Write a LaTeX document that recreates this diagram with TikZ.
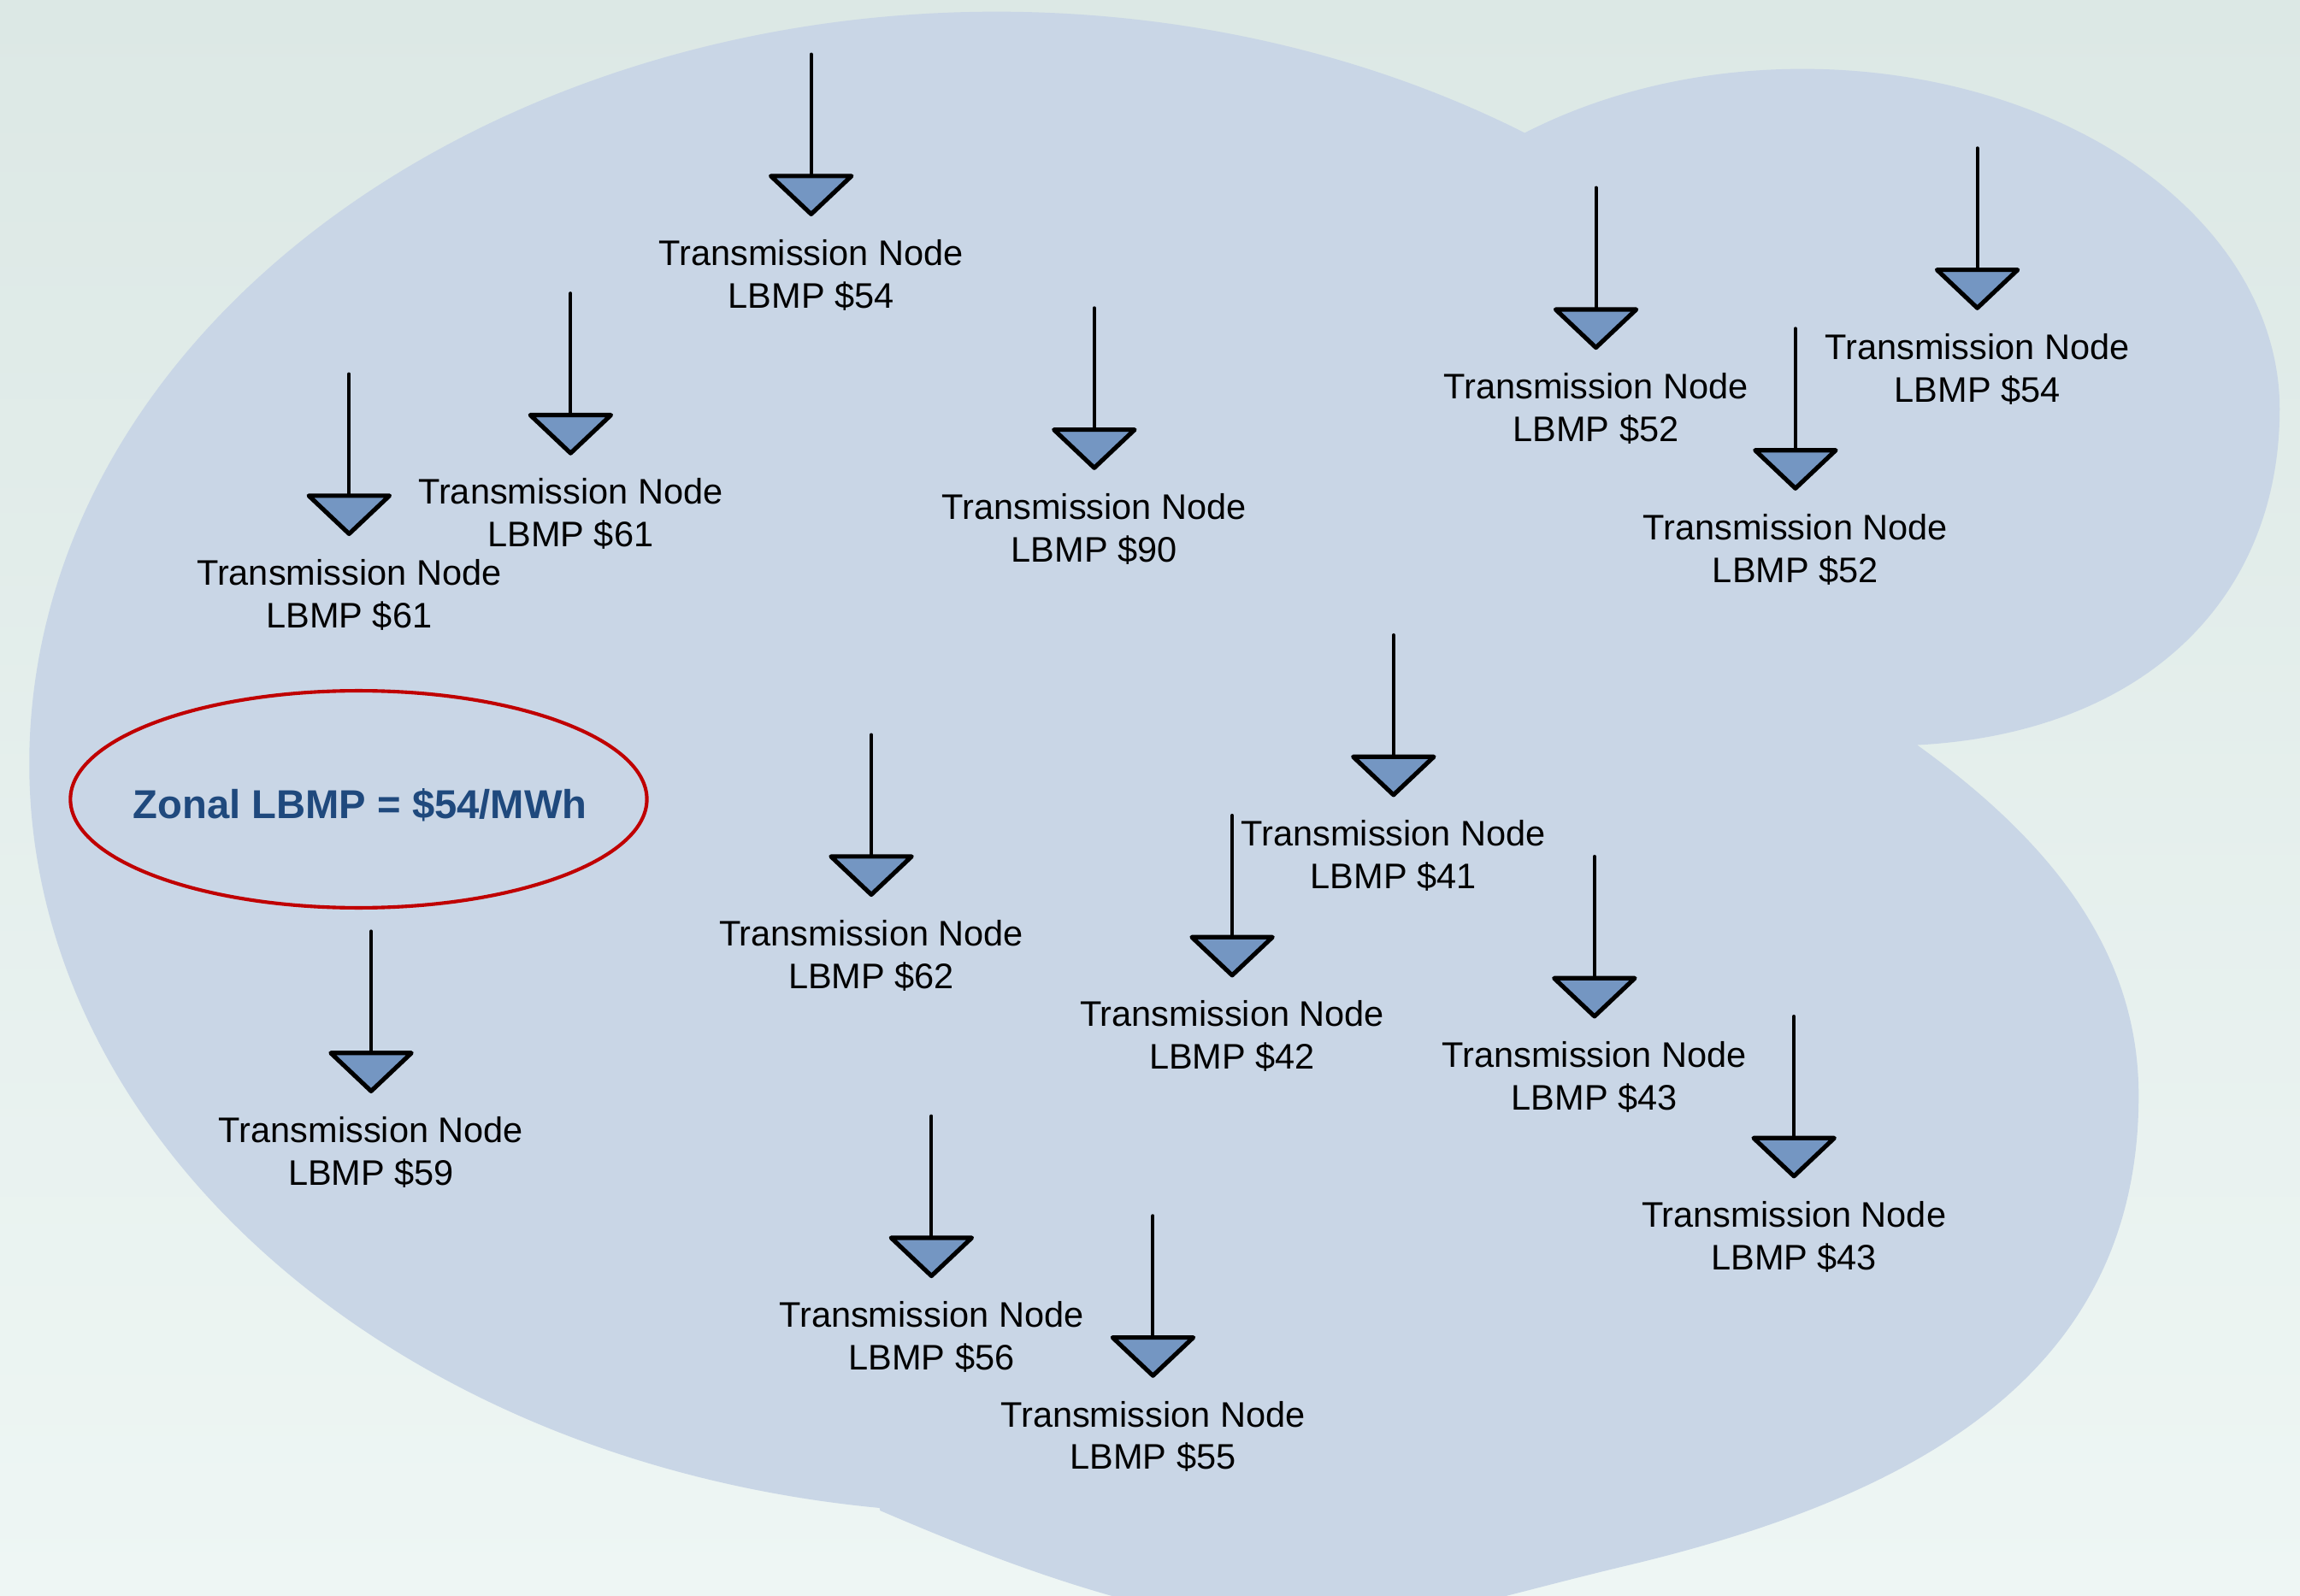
\documentclass[tikz,border=0pt]{standalone}
\usepackage{fontspec}
\setmainfont{Liberation Sans}
\usetikzlibrary{shapes.geometric}
\definecolor{bgtop}{RGB}{220,232,229}
\definecolor{bgbot}{RGB}{238,246,244}
\definecolor{blobfill}{RGB}{201,214,230}
\definecolor{trifill}{RGB}{116,150,194}
\definecolor{zred}{RGB}{192,0,0}
\definecolor{zblue}{RGB}{31,73,125}
\tikzset{
  stem/.style={line width=2.3pt, line cap=round},
  tri/.style={line width=3pt, line join=round, fill=trifill, draw=black},
  lbl/.style={font=\fontsize{24.2}{29.1}\selectfont, align=center, inner sep=0pt, text=black},
  zonering/.style={ellipse, draw=zred, line width=2.4pt, minimum width=393pt, minimum height=148pt, inner sep=0pt},
  zonetxt/.style={font=\fontsize{27.5}{33}\selectfont\bfseries, text=zblue, inner sep=0pt},
}
\newcommand\tnode[4]{%
  \coordinate (#1s) at (#2,#3);
  \coordinate (#1e) at (#2,#3+83);
  \draw[stem] (#1s) -- (#1e);
  \draw[tri] (#2-27.5,#3+83) -- (#2+27.5,#3+83) -- (#2,#3+109) -- cycle;
  \node[lbl] (#1l) at (#2,#3+150.5) {Transmission Node\\LBMP \$#4};
}
\begin{document}
\begin{tikzpicture}[x=1pt,y=-1pt]
\useasboundingbox (0,0) rectangle (1568,1087.7);
\shade[top color=bgtop, bottom color=bgbot] (0,0) rectangle (1568,1087.7);
\begin{scope}
\clip (0,0) rectangle (1568,1087.7);
\fill[blobfill]
  (599.6,1028.2) arc[start angle=97, end angle=303, x radius=660, y radius=512]
  -- (1039.5,90.6) arc[start angle=234.3, end angle=360, x radius=325, y radius=232]
  .. controls (1554,410) and (1460,500) .. (1307,508)
  .. controls (1400,575) and (1458,650) .. (1458,747)
  .. controls (1458,935) and (1310,1020) .. (1107,1068)
  .. controls (1007,1092) and (960,1110) .. (880,1110)
  .. controls (780,1105) and (670,1060) .. (600,1030)
  -- cycle;
\end{scope}

\node[zonering] (zone) at (244.5,545) {};
\node[zonetxt] (zonetext) at (245.5,549) {Zonal LBMP = \$54/MWh};

\tnode{a}{553}{37}{54}
\tnode{b}{389}{200}{61}
\tnode{c}{238}{255}{61}
\tnode{d}{746}{210}{90}
\tnode{e}{1088}{128}{52}
\tnode{f}{1348}{101}{54}
\tnode{g}{1224}{224}{52}
\tnode{h}{950}{433}{41}
\tnode{i}{594}{501}{62}
\tnode{j}{840}{556}{42}
\tnode{k}{1087}{584}{43}
\tnode{l}{1223}{693}{43}
\tnode{m}{253}{635}{59}
\tnode{n}{635}{761}{56}
\tnode{o}{786}{829}{55}
\end{tikzpicture}
\end{document}
